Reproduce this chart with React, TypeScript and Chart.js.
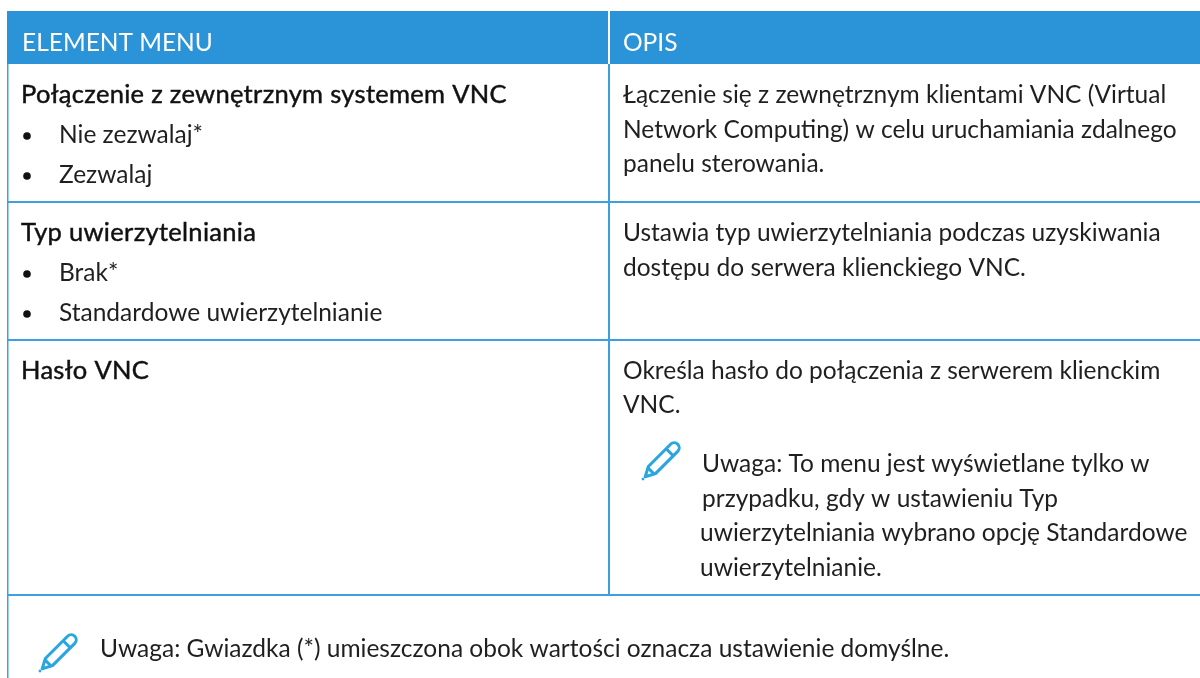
import React, { useEffect, useRef } from "react";
import { Chart, registerables } from "chart.js";

Chart.register(...registerables);

// Text content
const headers = ["ELEMENT MENU", "OPIS"];
const menuTitles = ["Połączenie z zewnętrznym systemem VNC", "Typ uwierzytelniania", "Hasło VNC"];
const menuOptions = [["Nie zezwalaj*", "Zezwalaj"], ["Brak*", "Standardowe uwierzytelnianie"], []];
const descriptions = [
  ["Łączenie się z zewnętrznym klientami VNC (Virtual", "Network Computing) w celu uruchamiania zdalnego", "panelu sterowania."],
  ["Ustawia typ uwierzytelniania podczas uzyskiwania", "dostępu do serwera klienckiego VNC."],
  ["Określa hasło do połączenia z serwerem klienckim", "VNC."],
];
const rowNote = ["Uwaga: To menu jest wyświetlane tylko w", "przypadku, gdy w ustawieniu Typ", "uwierzytelniania wybrano opcję Standardowe", "uwierzytelnianie."];
const footNote = "Uwaga: Gwiazdka (*) umieszczona obok wartości oznacza ustawienie domyślne.";

// Layout
const W = 1200, H = 678;
const LEFT = 7, COL = 608;
const HEAD_TOP = 11, HEAD_BOTTOM = 64;
const ROW_LINES = [202, 340, 595];
const BLUE = "#2B93D7", RULE = "#3D9FDD", INK = "#1f1f1f";
const FAMILY = "Lato";

function pencil(ctx: CanvasRenderingContext2D, x: number, y: number) {
  ctx.save();
  ctx.translate(x, y);
  ctx.rotate(-Math.PI / 4);
  ctx.scale(1.26, 1.26);
  ctx.strokeStyle = "#29A5DF";
  ctx.fillStyle = "#29A5DF";
  ctx.lineWidth = 2.4;
  ctx.lineJoin = "round";
  ctx.beginPath();
  ctx.moveTo(2.5, 0);
  ctx.lineTo(10, -4);
  ctx.lineTo(33, -4);
  ctx.arc(35, 0, 4, -Math.PI / 2, Math.PI / 2);
  ctx.lineTo(10, 4);
  ctx.closePath();
  ctx.stroke();
  ctx.beginPath();
  ctx.moveTo(9, -4);
  ctx.lineTo(9, 4);
  ctx.moveTo(30, -4);
  ctx.lineTo(30, 4);
  ctx.stroke();
  ctx.beginPath();
  ctx.arc(0, 0, 1.1, 0, Math.PI * 2);
  ctx.fill();
  ctx.restore();
}

const tablePlugin = {
  id: "tablePlugin",
  afterDraw(chart: any) {
    const { ctx, scales } = chart;
    const px = (v: number) => scales.x.getPixelForValue(v);
    const py = (v: number) => scales.y.getPixelForValue(v);
    const text = (s: string, x: number, y: number, font: string, color = INK, embolden = 0, spacing = 0) => {
      ctx.font = font;
      ctx.letterSpacing = `${spacing}px`;
      ctx.fillStyle = color;
      ctx.textBaseline = "alphabetic";
      ctx.fillText(s, px(x), py(y));
      if (embolden) {
        ctx.strokeStyle = color;
        ctx.lineWidth = embolden;
        ctx.strokeText(s, px(x), py(y));
      }
      ctx.letterSpacing = "0px";
    };
    ctx.save();
    ctx.fillStyle = "#ffffff";
    ctx.fillRect(0, 0, W, H);
    // Header
    ctx.fillStyle = BLUE;
    ctx.fillRect(px(LEFT), py(HEAD_TOP), px(W) - px(LEFT), py(HEAD_BOTTOM) - py(HEAD_TOP));
    ctx.fillStyle = "#ffffff";
    ctx.fillRect(px(COL), py(HEAD_TOP), 2, py(HEAD_BOTTOM) - py(HEAD_TOP));
    // Rules
    ctx.fillStyle = RULE;
    ctx.fillRect(px(LEFT), py(HEAD_BOTTOM), 1.5, py(H) - py(HEAD_BOTTOM));
    ctx.fillRect(px(COL), py(HEAD_BOTTOM), 2, py(ROW_LINES[2]) - py(HEAD_BOTTOM));
    ROW_LINES.forEach((l) => ctx.fillRect(px(LEFT), py(l) - 1, px(W) - px(LEFT), 2));

    const reg = `400 24.5px ${FAMILY}`;
    const title = `400 25.5px ${FAMILY}`;
    text(headers[0], 22, 51, reg, "#ffffff");
    text(headers[1], 623, 51, reg, "#ffffff");

    const titleBase = [103, 241, 379];
    const optBase = [[143, 183], [281, 321], []];
    const descBase = [[103, 138, 172], [241, 276], [379, 413]];
    menuTitles.forEach((t, i) => {
      text(t, 21, titleBase[i], title, "#111111", 0.45, 0.3);
      menuOptions[i].forEach((o, j) => {
        ctx.fillStyle = "#111111";
        ctx.beginPath();
        ctx.arc(px(27), py(optBase[i][j] - 7), 3.8, 0, Math.PI * 2);
        ctx.fill();
        text(o, 59, optBase[i][j], reg);
      });
      descriptions[i].forEach((d, j) => text(d, 623, descBase[i][j], reg));
    });
    const noteBase = [472, 507, 541, 576];
    const noteX = [702, 702, 700, 700];
    rowNote.forEach((n, i) => text(n, noteX[i], noteBase[i], reg));
    pencil(ctx, px(643), py(479));
    text(footNote, 100, 657, reg);
    pencil(ctx, px(40), py(671));
    ctx.restore();
  },
};

export default function App() {
  const ref = useRef<HTMLCanvasElement>(null);
  useEffect(() => {
    const chart = new Chart(ref.current!, {
      type: "scatter",
      data: { datasets: [{ label: headers.join(" / "), data: [] }] },
      options: {
        animation: false,
        responsive: false,
        layout: { padding: 0 },
        plugins: { legend: { display: false }, tooltip: { enabled: false } },
        scales: {
          x: { type: "linear", min: 0, max: W, display: false },
          y: { type: "linear", min: 0, max: H, reverse: true, display: false },
        },
      },
      plugins: [tablePlugin],
    });
    return () => chart.destroy();
  }, []);
  return <canvas ref={ref} width={W} height={H} style={{ position: "fixed", left: 0, top: 0, display: "block" }} />;
}
